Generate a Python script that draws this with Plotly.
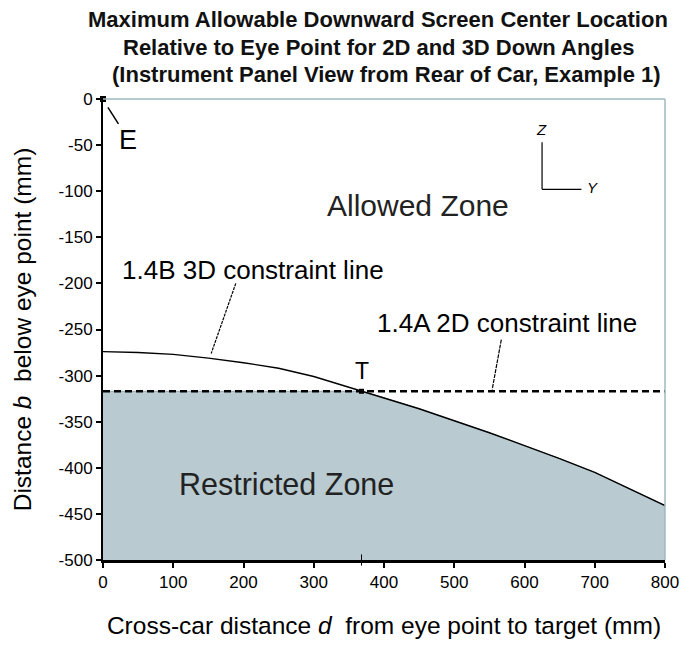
import plotly.graph_objects as go

# Data
d_3d = [0, 50, 100, 150, 200, 250, 300, 368, 400, 450, 500, 550, 600, 650, 700, 750, 800]
b_3d = [-274, -275, -277, -281, -286, -292, -301, -317, -324, -336, -349, -362, -376, -390, -405, -423, -441]
limit_2d = -317
d_2d = [0, 800]
point_E = (0, 0)
point_T = (368, -317)
y_floor = -500
x_ticks = [0, 100, 200, 300, 400, 500, 600, 700, 800]
x_ticktext = ["0", "100", "200", "300", "400", "500", "600", "700", "800"]
y_ticks = [0, -50, -100, -150, -200, -250, -300, -350, -400, -450, -500]
y_ticktext = ["0", "-50", "-100", "-150", "-200", "-250", "-300", "-350", "-400", "-450", "-500"]
title_lines = ["Maximum Allowable Downward Screen Center Location",
               "Relative to Eye Point for 2D and 3D Down Angles",
               "(Instrument Panel View from Rear of Car, Example 1)"]

boundary = [min(b, limit_2d) for b in b_3d]

FONT = "Liberation Sans, Arial, sans-serif"
fig = go.Figure()

fig.add_trace(go.Scatter(x=d_3d, y=[y_floor] * len(d_3d), mode="lines",
                         line=dict(width=0, color="rgba(0,0,0,0)"), hoverinfo="skip", showlegend=False))
fig.add_trace(go.Scatter(x=d_3d, y=boundary, mode="lines", fill="tonexty",
                         fillcolor="#b9cbd1", line=dict(width=1, color="#8fa6ad"),
                         showlegend=False))
fig.add_trace(go.Scatter(x=d_3d, y=b_3d, mode="lines", line=dict(color="black", width=1.4),
                         showlegend=False))
fig.add_trace(go.Scatter(x=d_2d, y=[limit_2d, limit_2d], mode="lines",
                         line=dict(color="black", width=2.5, dash="7px,4px"), showlegend=False))
fig.add_trace(go.Scatter(x=[point_E[0]], y=[point_E[1]], mode="markers",
                         marker=dict(symbol="square", size=6, color="black"),
                         cliponaxis=False, showlegend=False))
fig.add_trace(go.Scatter(x=[point_T[0]], y=[point_T[1]], mode="markers",
                         marker=dict(symbol="square", size=5, color="black"),
                         cliponaxis=False, showlegend=False))
fig.add_trace(go.Scatter(x=[point_T[0]], y=[y_floor], mode="markers",
                         marker=dict(symbol="line-ns", size=8, line=dict(width=1, color="black")),
                         cliponaxis=False, showlegend=False))

shapes = [
    dict(type="line", xref="paper", yref="paper", x0=0, x1=1, y0=1, y1=1,
         line=dict(color="#9fb9c0", width=1.5)),
    dict(type="line", xref="paper", yref="paper", x0=1, x1=1, y0=0, y1=1,
         line=dict(color="#9fb9c0", width=1.5)),
    dict(type="line", x0=7, y0=-9, x1=22, y1=-27, line=dict(color="black", width=1.5)),
    dict(type="line", x0=189, y0=-200, x1=154, y1=-276, line=dict(color="black", width=1.2, dash="3px,1px")),
    dict(type="line", x0=567, y0=-261, x1=554, y1=-315, line=dict(color="black", width=1.2, dash="4px,1px")),
    dict(type="line", x0=625, y0=-47, x1=625, y1=-98, line=dict(color="black", width=1.2)),
    dict(type="line", x0=625, y0=-98, x1=681, y1=-98, line=dict(color="black", width=1.2)),
]

title_x = [0.4895, 0.4895, 0.505]
title_shift = [80, 52, 25]
annotations = []
for txt, tx, ys in zip(title_lines, title_x, title_shift):
    annotations.append(dict(x=tx, y=1, xref="paper", yref="paper", xanchor="center", yanchor="middle",
                            yshift=ys, showarrow=False, text="<b>" + txt + "</b>",
                            font=dict(family=FONT, size=22, color="#111")))
annotations += [
    dict(x=35, y=-45, text="E", showarrow=False, font=dict(family=FONT, size=27, color="black")),
    dict(x=448, y=-116, text="Allowed Zone", showarrow=False, font=dict(family=FONT, size=30, color="#222")),
    dict(x=261, y=-418, text="Restricted Zone", showarrow=False, font=dict(family=FONT, size=30.5, color="#222")),
    dict(x=214, y=-185, text="1.4B 3D constraint line", showarrow=False,
         font=dict(family=FONT, size=26, color="black")),
    dict(x=575, y=-243, text="1.4A 2D constraint line", showarrow=False,
         font=dict(family=FONT, size=26, color="black")),
    dict(x=368, y=-295, text="T", showarrow=False, font=dict(family=FONT, size=23, color="black")),
    dict(x=624, y=-33, text="<i>Z</i>", showarrow=False, font=dict(family=FONT, size=15, color="black")),
    dict(x=697, y=-96, text="<i>Y</i>", showarrow=False, font=dict(family=FONT, size=15, color="black")),
]

fig.update_layout(
    width=683, height=639,
    margin=dict(l=95, r=16, t=91, b=81),
    paper_bgcolor="white", plot_bgcolor="white",
    font=dict(family=FONT, size=17, color="black"),
    shapes=shapes, annotations=annotations,
    xaxis=dict(range=[0, 800], tickvals=x_ticks, ticktext=x_ticktext, ticks="outside", ticklen=5,
               tickwidth=1.5, tickcolor="black", showline=True, linecolor="black", linewidth=2.5,
               showgrid=False, zeroline=False, tickfont=dict(size=17),
               title=dict(text="Cross-car distance <i>d</i>  from eye point to target (mm)",
                          font=dict(size=24.5), standoff=26)),
    yaxis=dict(range=[-500, 0], tickvals=y_ticks, ticktext=y_ticktext, ticks="outside", ticklen=5,
               tickwidth=1.5, tickcolor="black", showline=True, linecolor="black", linewidth=2,
               showgrid=False, zeroline=False, tickfont=dict(size=17),
               title=dict(text="Distance <i>b</i>  below eye point (mm)",
                          font=dict(size=24.5), standoff=20)),
)

fig.write_html("out.html")
